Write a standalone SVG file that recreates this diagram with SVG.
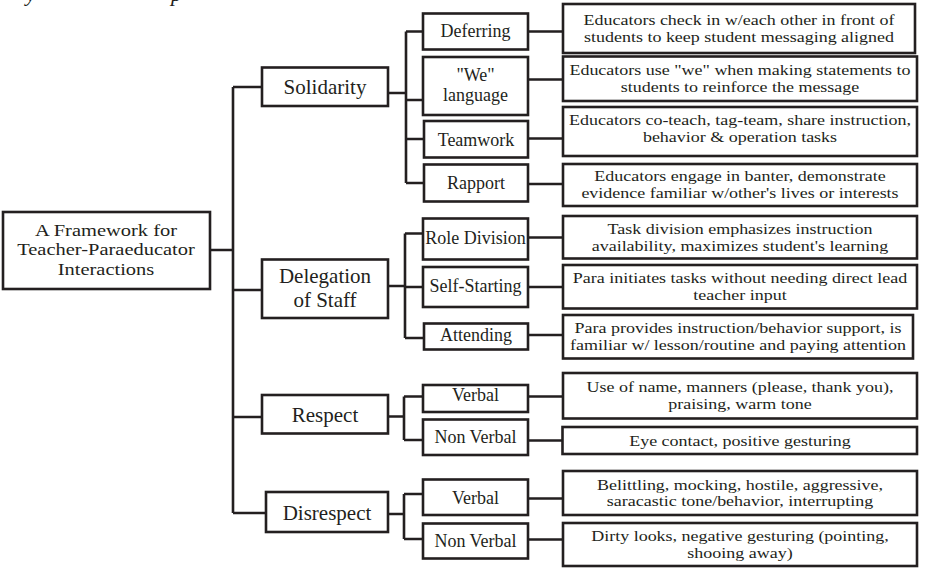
<svg xmlns="http://www.w3.org/2000/svg" width="935" height="569" viewBox="0 0 935 569">
<style>
rect{fill:#fff;stroke:#231f20;stroke-width:2.6}
.c path{fill:none;stroke:#231f20;stroke-width:2.6}
text{font-family:"Liberation Serif","Times New Roman",serif;fill:#231f20;text-anchor:middle}
.r{font-size:17.5px}
.m{font-size:21px}
.s{font-size:18px}
.d{font-size:15px}
.cap{font-size:22px;font-style:italic;text-anchor:start}
</style>
<rect width="935" height="569" style="fill:#fff;stroke:none"/>
<text class="cap" x="26" y="1">y</text>
<text class="cap" x="171" y="1">p</text>
<g class="c" id="connectors">
<path d="M210 250H233M233 87V513M233 87H262M233 290H262M233 417H262M233 513H266"/>
<path d="M388 93H406M406 31.5V183M406 31.5H423M406 100H423M406 139H423M406 183H424"/>
<path d="M528 31.5H563M528 79.5H563M528 138.5H563M528 184H563"/>
<path d="M388 286H405M405 233.5V338M405 233.5H423M405 287H423M405 338H424"/>
<path d="M528 237.5H563M528 287H563M528 335H563"/>
<path d="M388 416.5H404M404 396.5V440M404 396.5H423M404 440H423"/>
<path d="M528 396.5H563M528 440.5H562"/>
<path d="M388 514H404M404 494V539M404 494H423M404 539H423"/>
<path d="M528 498.5H563M528 539.5H563"/>
</g>
<g id="root"><rect x="3" y="212" width="207" height="77"/><text class="r" transform="translate(106 0) scale(1.17 1)"><tspan x="0" y="236">A Framework for</tspan><tspan x="0" y="255.5">Teacher-Paraeducator</tspan><tspan x="0" y="275">Interactions</tspan></text></g>
<g id="solidarity"><rect x="262" y="67.5" width="126" height="38.5"/><text class="m" x="325" y="94">Solidarity</text></g>
<g id="deferring"><rect x="423" y="13.5" width="105" height="36"/><text class="s" x="475.5" y="37">Deferring</text></g>
<g id="we-language"><rect x="423" y="57" width="105" height="58"/><text class="s"><tspan x="475.5" y="81">"We"</tspan><tspan x="475.5" y="101">language</tspan></text></g>
<g id="teamwork"><rect x="424" y="121" width="104" height="36.5"/><text class="s" x="476" y="146">Teamwork</text></g>
<g id="rapport"><rect x="424" y="164.5" width="104" height="37"/><text class="s" x="476" y="188.5">Rapport</text></g>
<g id="d-deferring"><rect x="563" y="4" width="352" height="49"/><text class="d" transform="translate(739 0) scale(1.2 1)"><tspan x="0" y="25">Educators check in w/each other in front of</tspan><tspan x="0" y="41.6">students to keep student messaging aligned</tspan></text></g>
<g id="d-we"><rect x="563" y="56.5" width="354" height="44.5"/><text class="d" transform="translate(740 0) scale(1.2 1)"><tspan x="0" y="75.5">Educators use "we" when making statements to</tspan><tspan x="0" y="92.1">students to reinforce the message</tspan></text></g>
<g id="d-teamwork"><rect x="563" y="107" width="354" height="49"/><text class="d" transform="translate(740 0) scale(1.2 1)"><tspan x="0" y="125">Educators co-teach, tag-team, share instruction,</tspan><tspan x="0" y="141.6">behavior &amp; operation tasks</tspan></text></g>
<g id="d-rapport"><rect x="563" y="164" width="354" height="42"/><text class="d" transform="translate(740 0) scale(1.2 1)"><tspan x="0" y="181.5">Educators engage in banter, demonstrate</tspan><tspan x="0" y="198.1">evidence familiar w/other's lives or interests</tspan></text></g>
<g id="delegation"><rect x="262" y="259.5" width="126" height="58.5"/><text class="m"><tspan x="325" y="283">Delegation</tspan><tspan x="325" y="306.5">of Staff</tspan></text></g>
<g id="role-division"><rect x="423" y="218.5" width="105" height="41"/><text class="s" x="475.5" y="243.5">Role Division</text></g>
<g id="self-starting"><rect x="423" y="267" width="105" height="40"/><text class="s" x="475.5" y="291.5">Self-Starting</text></g>
<g id="attending"><rect x="424" y="323.5" width="104" height="26"/><text class="s" x="476" y="340.5">Attending</text></g>
<g id="d-role"><rect x="563" y="216" width="354" height="42.5"/><text class="d" transform="translate(740 0) scale(1.2 1)"><tspan x="0" y="234">Task division emphasizes instruction</tspan><tspan x="0" y="250.6">availability, maximizes student's learning</tspan></text></g>
<g id="d-self"><rect x="563" y="265" width="354" height="43.5"/><text class="d" transform="translate(740 0) scale(1.2 1)"><tspan x="0" y="283.5">Para initiates tasks without needing direct lead</tspan><tspan x="0" y="300.1">teacher input</tspan></text></g>
<g id="d-attending"><rect x="563" y="315" width="350" height="43.5"/><text class="d" transform="translate(738 0) scale(1.2 1)"><tspan x="0" y="333.5">Para provides instruction/behavior support, is</tspan><tspan x="0" y="350.1">familiar w/ lesson/routine and paying attention</tspan></text></g>
<g id="respect"><rect x="262" y="395" width="126" height="38.5"/><text class="m" x="325" y="422">Respect</text></g>
<g id="r-verbal"><rect x="423" y="385" width="105" height="27"/><text class="s" x="475.5" y="401">Verbal</text></g>
<g id="r-nonverbal"><rect x="423" y="419.5" width="105" height="35.5"/><text class="s" x="475.5" y="443">Non Verbal</text></g>
<g id="d-r-verbal"><rect x="563" y="373" width="354" height="45.5"/><text class="d" transform="translate(740 0) scale(1.2 1)"><tspan x="0" y="392.5">Use of name, manners (please, thank you),</tspan><tspan x="0" y="409.1">praising, warm tone</tspan></text></g>
<g id="d-r-nonverbal"><rect x="562.5" y="427" width="354.5" height="27"/><text class="d" transform="translate(740 0) scale(1.2 1)" x="0" y="446">Eye contact, positive gesturing</text></g>
<g id="disrespect"><rect x="266" y="492" width="122" height="40"/><text class="m" x="327" y="519.5">Disrespect</text></g>
<g id="dr-verbal"><rect x="423" y="479.5" width="105" height="35.5"/><text class="s" x="475.5" y="503.5">Verbal</text></g>
<g id="dr-nonverbal"><rect x="423" y="523.5" width="105" height="35"/><text class="s" x="475.5" y="547">Non Verbal</text></g>
<g id="d-dr-verbal"><rect x="563" y="471" width="354" height="44"/><text class="d" transform="translate(740 0) scale(1.2 1)"><tspan x="0" y="489.7">Belittling, mocking, hostile, aggressive,</tspan><tspan x="0" y="506.3">saracastic tone/behavior, interrupting</tspan></text></g>
<g id="d-dr-nonverbal"><rect x="563" y="523" width="354" height="43"/><text class="d" transform="translate(740 0) scale(1.2 1)"><tspan x="0" y="541.2">Dirty looks, negative gesturing (pointing,</tspan><tspan x="0" y="557.8">shooing away)</tspan></text></g>
</svg>
